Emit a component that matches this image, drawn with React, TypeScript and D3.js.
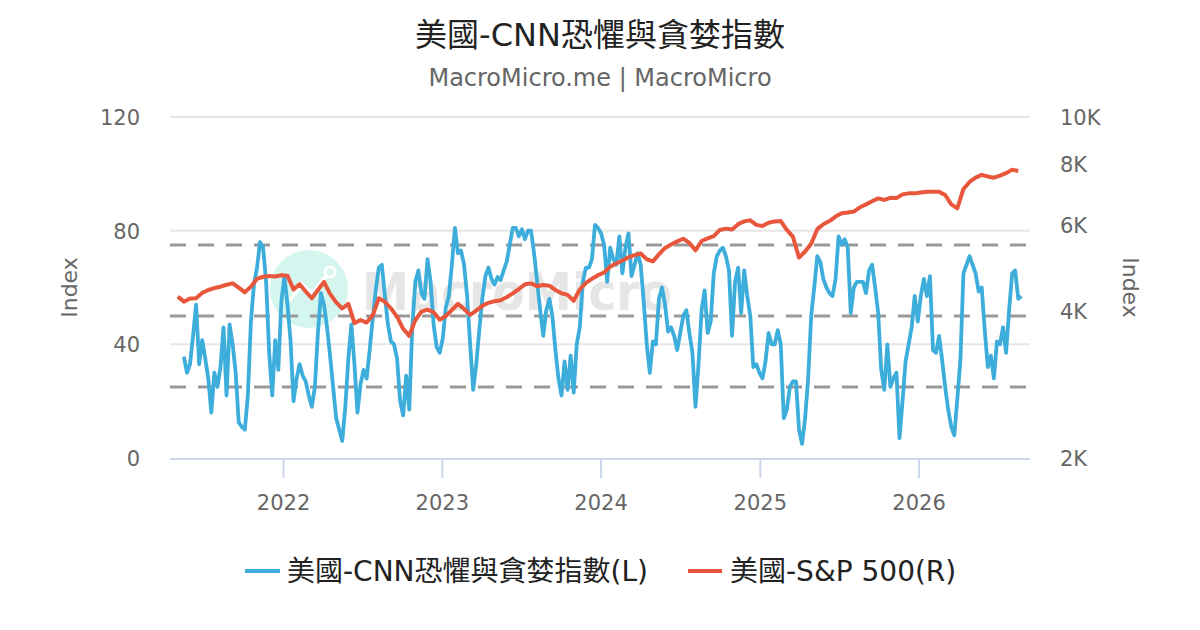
import * as d3 from "d3";

// CNN Fear & Greed index, weekly readings starting 2021-05-17
const fearGreedStart = "2021-05-17";
const fearGreedWeekly = [
  35.7, 30, 33, 43, 54, 33, 41.5, 35, 28, 16,
  30, 25, 32, 46, 22, 47, 40, 30, 12.5, 11,
  10, 22, 48, 61, 67, 76, 74, 62, 37, 22,
  41.5, 31, 55, 64, 54, 41.5, 20, 28, 33, 29,
  27, 22, 18, 25, 44, 58, 54, 46, 36, 25,
  14, 10, 6, 18, 35, 47, 33, 16, 26, 31,
  28, 38, 49, 59, 67, 68, 57, 47, 41, 40,
  35, 20, 15, 29, 17, 46, 62, 66, 58, 56,
  70, 62, 47, 39, 37, 42, 53, 57, 68, 81,
  72, 73, 68, 57, 40, 24, 33, 45, 56, 64,
  67, 63, 61, 63.7, 62.6, 66, 69, 75, 81, 81,
  78, 80.5, 77, 80, 80, 72, 62, 52, 43, 52,
  56, 50, 38, 28, 22, 34, 24, 36, 23, 40,
  46, 62, 67, 67, 70, 82, 81, 79, 75, 62,
  74, 70, 68, 78, 65, 74, 79, 64, 68, 72,
  68, 55, 40, 30, 41, 40, 56, 60, 54, 44.5,
  46, 43, 38, 44, 50, 52, 44, 37, 18, 33,
  52, 59, 44, 48, 65, 71, 73, 74, 71, 66,
  43, 62, 67, 51, 66, 57, 50, 32, 33, 30,
  28, 34, 44, 40, 40, 45, 40, 14, 17, 25,
  27, 27, 10, 5, 14, 28, 50, 60, 71, 69,
  63, 60, 58, 57, 63, 78, 75, 77, 74, 51,
  60, 62, 62, 62, 58, 66, 68, 60, 51, 31,
  24, 40, 25, 28, 30, 7, 20, 34, 40, 46,
  57, 48, 57, 63, 57, 64, 38, 37, 43, 34.5,
  25, 17, 11, 8, 21, 34.5, 65, 68, 71, 68,
  65, 58.6, 60, 45, 32, 36, 28, 41, 40, 46,
  37, 52, 65, 66, 56, 57,
];

// S&P 500, readings every two weeks starting 2021-05-03
const spxStart = "2021-05-03";
const spxBiweekly = [
  4283, 4183, 4245, 4250, 4360, 4420, 4460, 4489, 4530, 4560,
  4470, 4370, 4490, 4660, 4705, 4720, 4710, 4740, 4730, 4430,
  4540, 4390, 4250, 4420, 4590, 4340, 4170, 4050, 4140, 3780,
  3836, 3790, 3920, 4250, 4180, 4050, 3898, 3680, 3560, 3836,
  3990, 4030, 3980, 3840, 3910, 4022, 4140, 4040, 3930, 4010,
  4100, 4160, 4190, 4210, 4270, 4350, 4440, 4540, 4560, 4500,
  4524, 4510, 4420, 4352, 4320, 4200, 4430, 4570, 4660, 4740,
  4800, 4935, 5010, 5080, 5155, 5210, 5250, 5110, 5060, 5230,
  5390, 5480, 5560, 5630, 5520, 5330, 5570, 5640, 5700, 5868,
  5905, 5880, 6030, 6110, 6140, 6010, 5980, 6070, 6110, 6120,
  5870, 5684, 5150, 5300, 5500, 5890, 6030, 6120, 6250, 6350,
  6370, 6400, 6530, 6620, 6720, 6810, 6760, 6830, 6820, 6940,
  6974, 6974, 7000, 7028, 7028, 7028, 6920, 6620, 6500, 7120,
  7360, 7510, 7610, 7550, 7510, 7580, 7670, 7800, 7750,
];

const xDomain = ["2021-04-15", "2026-09-13"];
const yearTicks = ["2022-01-01", "2023-01-01", "2024-01-01", "2025-01-01", "2026-01-01"];
const leftTicks = [0, 40, 80, 120];
const rightTicks = [2000, 4000, 6000, 8000, 10000];
const zoneLevels = [25, 50, 75];

const TITLE = "美國-CNN恐懼與貪婪指數";
const SUBTITLE = "MacroMicro.me | MacroMicro";
const LEGEND = ["美國-CNN恐懼與貪婪指數(L)", "美國-S&P 500(R)"];

const FONT = '"DejaVu Sans", "Noto Sans CJK TC", sans-serif';
const BLUE = "#3daedb";
const RED = "#e8563b";

export default function App() {
  const width = 1200;
  const height = 630;
  const plot = { left: 170, right: 1030, top: 117, bottom: 458 };

  const parse = d3.utcParse("%Y-%m-%d");
  const fgStart = parse(fearGreedStart) as Date;
  const spStart = parse(spxStart) as Date;

  const fgData = fearGreedWeekly.map((v, i) => ({ date: d3.utcDay.offset(fgStart, i * 7), v }));
  const spData = spxBiweekly.map((v, i) => ({ date: d3.utcDay.offset(spStart, i * 14), v }));

  const x = d3
    .scaleUtc()
    .domain(xDomain.map((d) => parse(d) as Date))
    .range([plot.left, plot.right]);
  const yL = d3.scaleLinear().domain([0, 120]).range([plot.bottom, plot.top]);
  const yR = d3.scaleLog().domain([2000, 10000]).range([plot.bottom, plot.top]);

  const fgLine = d3
    .line<{ date: Date; v: number }>()
    .x((d) => x(d.date))
    .y((d) => yL(d.v));
  const spLine = d3
    .line<{ date: Date; v: number }>()
    .x((d) => x(d.date))
    .y((d) => yR(d.v));

  const legendY = 571;

  return (
    <svg
      width={width}
      height={height}
      style={{ position: "absolute", left: 0, top: 0, background: "#fff" }}
      fontFamily={FONT}
    >
      <rect width={width} height={height} fill="#fff" />

      {/* Title */}
      <text x={600} y={46} textAnchor="middle" fontSize={32} fill="#222">
        {TITLE}
      </text>
      <text x={600} y={86} textAnchor="middle" fontSize={24} fill="#666">
        {SUBTITLE}
      </text>

      {/* Grid lines */}
      {leftTicks.slice(1).map((t) => (
        <line
          key={t}
          x1={plot.left}
          x2={plot.right}
          y1={yL(t)}
          y2={yL(t)}
          stroke="#e6e6e6"
          strokeWidth={2}
        />
      ))}

      {/* Watermark */}
      <g>
        <circle cx={309} cy={289} r={39} fill="#d5f6ef" />
        <polyline
          points="290,300 302,284 312,294 326,276"
          fill="none"
          stroke="#fff"
          strokeWidth={4}
        />
        <circle cx={330} cy={272} r={5} fill="none" stroke="#fff" strokeWidth={3} />
        <text
          x={362}
          y={310}
          fontSize={52}
          fontWeight="bold"
          fill="#e6e6e6"
          textLength={310}
          lengthAdjust="spacingAndGlyphs"
        >
          MacroMicro
        </text>
      </g>

      {/* Zone lines */}
      {zoneLevels.map((z) => (
        <line
          key={z}
          x1={plot.left}
          x2={plot.right - 3}
          y1={yL(z)}
          y2={yL(z)}
          stroke="#999"
          strokeWidth={3}
          strokeDasharray="16 12"
        />
      ))}

      {/* X axis */}
      <line
        x1={plot.left}
        x2={plot.right}
        y1={plot.bottom + 1}
        y2={plot.bottom + 1}
        stroke="#ccd6eb"
        strokeWidth={2}
      />
      {yearTicks.map((t) => {
        const d = parse(t) as Date;
        const px = x(d);
        return (
          <g key={t}>
            <line x1={px} x2={px} y1={plot.bottom} y2={plot.bottom + 20} stroke="#ccd6eb" strokeWidth={2} />
            <text x={px} y={510} textAnchor="middle" fontSize={21} fill="#666">
              {d3.utcFormat("%Y")(d)}
            </text>
          </g>
        );
      })}

      {/* Left axis labels */}
      {leftTicks.map((t) => (
        <text key={t} x={140} y={yL(t) + 8} textAnchor="end" fontSize={21} fill="#666">
          {t}
        </text>
      ))}
      <text
        transform={`translate(77,${(plot.top + plot.bottom) / 2}) rotate(-90)`}
        textAnchor="middle"
        fontSize={22}
        fill="#666"
      >
        Index
      </text>

      {/* Right axis labels */}
      {rightTicks.map((t) => (
        <text key={t} x={1060} y={yR(t) + 8} textAnchor="start" fontSize={21} fill="#666">
          {`${t / 1000}K`}
        </text>
      ))}
      <text
        transform={`translate(1123,${(plot.top + plot.bottom) / 2}) rotate(90)`}
        textAnchor="middle"
        fontSize={22}
        fill="#666"
      >
        Index
      </text>

      {/* Series */}
      <path d={fgLine(fgData) ?? ""} fill="none" stroke={BLUE} strokeWidth={3.8} strokeLinejoin="round" />
      <path d={spLine(spData) ?? ""} fill="none" stroke={RED} strokeWidth={4} strokeLinejoin="round" />

      {/* Legend */}
      <line x1={245} x2={280} y1={legendY} y2={legendY} stroke={BLUE} strokeWidth={4} />
      <text x={287} y={legendY + 10} fontSize={28} fill="#222">
        {LEGEND[0]}
      </text>
      <line x1={688} x2={722} y1={legendY} y2={legendY} stroke={RED} strokeWidth={4} />
      <text x={730} y={legendY + 10} fontSize={28} fill="#222">
        {LEGEND[1]}
      </text>
    </svg>
  );
}
